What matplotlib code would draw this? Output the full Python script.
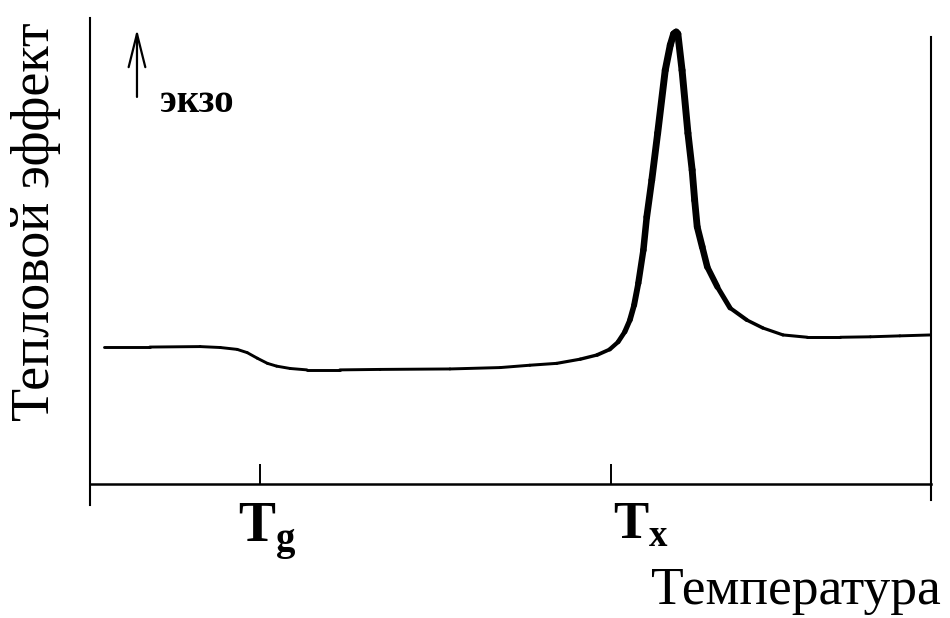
import numpy as np
import matplotlib
matplotlib.use("Agg")
import matplotlib.pyplot as plt
from matplotlib.collections import LineCollection

plt.rcParams['font.family'] = ['Liberation Serif', 'DejaVu Serif']
plt.rcParams['mathtext.fontset'] = 'custom'
plt.rcParams['mathtext.rm'] = 'Liberation Serif'
plt.rcParams['mathtext.bf'] = 'Liberation Serif:bold'

# DSC-style thermogram: temperature (arbitrary units) vs heat effect (arbitrary units)
temperature = [1.7, 7.1, 13.1, 15.5, 17.5, 18.7, 19.9, 21.1, 22.2, 23.8, 25.8, 29.7,
               34.5, 42.8, 48.8, 52.3, 55.5, 58.3, 60.3, 61.8, 62.8, 63.6, 64.2, 64.7,
               65.2, 65.8, 66.2, 66.8, 67.5, 68.4, 69.0, 69.4, 69.7, 69.9, 70.4, 71.1,
               71.6, 71.9, 72.2, 72.8, 73.4, 74.6, 76.1, 78.1, 80.0, 82.4, 85.3, 89.2,
               92.8, 96.3, 100.0]
heat_effect = [29.4, 29.4, 29.5, 29.3, 28.9, 28.2, 27.0, 25.9, 25.3, 24.8, 24.5, 24.5,
               24.6, 24.7, 25.0, 25.5, 25.9, 26.8, 27.7, 28.9, 30.5, 32.7, 35.2, 38.4,
               43.1, 50.2, 57.3, 65.2, 75.3, 88.8, 94.2, 96.6, 97.0, 96.6, 88.8, 75.3,
               67.4, 60.9, 55.2, 50.9, 46.6, 42.3, 37.8, 35.2, 33.5, 32.0, 31.5, 31.5,
               31.6, 31.8, 32.0]

tick_positions = [20.2, 62.0]
tick_labels = [r'$\mathbf{T}_\mathbf{g}$', r'$\mathbf{T}_\mathbf{x}$']

fig = plt.figure(figsize=(9.5, 6.18), dpi=100)
ax = fig.add_axes([0.0947, 0.1828, 0.8853, 0.788])
ax.set_xlim(0, 100)
ax.set_ylim(-4.5, 100)

# frame: left and right verticals, horizontal temperature axis at zero
ax.spines['top'].set_visible(False)
ax.spines['left'].set_linewidth(1.5)
ax.spines['right'].set_linewidth(1.5)
ax.spines['right'].set_bounds(-3.4, 96)
ax.spines['bottom'].set_position(('data', 0))
ax.spines['bottom'].set_linewidth(1.8)
ax.set_yticks([])
ax.set_xticks(tick_positions)
ax.set_xticklabels([])
ax.tick_params(axis='x', direction='in', length=14.5, width=1.4, color='black')

# curve with a heavier stroke around the crystallisation peak
t = np.asarray(temperature)
h = np.asarray(heat_effect)
pts = np.column_stack([t, h]).reshape(-1, 1, 2)
segs = np.concatenate([pts[:-1], pts[1:]], axis=1)
mid = 0.5 * (t[:-1] + t[1:])
widths = 2.1 + 2.9 / (1.0 + ((mid - 69.5) / 6.0) ** 4)
lc = LineCollection(segs, linewidths=widths, colors='black', capstyle='round',
                    joinstyle='round')
ax.add_collection(lc)

# axis titles
ax.text(-0.049, 0.581, 'Тепловой эффект', transform=ax.transAxes, rotation=90,
        rotation_mode='anchor', ha='center', va='baseline', fontsize=39)
ax.text(1.011, -0.2033, 'Температура', transform=ax.transAxes,
        ha='right', va='baseline', fontsize=38.5)

# characteristic temperatures
ax.text(17.6, -12.4, tick_labels[0], ha='left', va='baseline', fontsize=40)
ax.text(62.2, -11.6, tick_labels[1], ha='left', va='baseline', fontsize=38)

# exothermic direction marker
ax.annotate('', xy=(0.0559, 0.977), xytext=(0.0559, 0.838),
            xycoords='axes fraction', textcoords='axes fraction',
            arrowprops=dict(arrowstyle='->,head_length=2.4,head_width=0.6',
                            lw=1.6, color='black', shrinkA=0, shrinkB=0))
ax.text(0.0832, 0.807, 'экзо', transform=ax.transAxes, ha='left', va='baseline',
        fontsize=28, fontweight='bold')

fig.savefig('out.png', dpi=100)
